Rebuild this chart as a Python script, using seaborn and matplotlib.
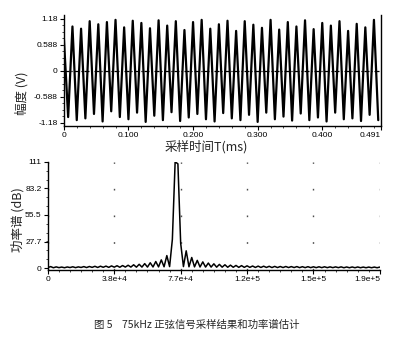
import numpy as np
import pandas as pd
import matplotlib
matplotlib.use("Agg")
import matplotlib.pyplot as plt
import seaborn as sns

# --- données ---
# signal : valeurs aux crêtes / creux successifs (75 kHz, demi-période)
freq_signal_khz = 75.0
amplitudes_v = [0.75, -1.05, 1.00, -1.12, 0.95, -1.08, 1.12, -0.98, 1.05, -1.15,
                1.10, -0.92, 1.15, -1.05, 0.98, -1.10, 1.13, -0.95, 1.08, -1.16,
                0.96, -1.02, 1.14, -1.12, 1.02, -0.94, 1.12, -1.14, 0.92, -1.06,
                1.10, -0.98, 1.15, -1.10, 0.95, -1.15, 1.05, -0.96, 1.13, -1.08,
                0.90, -1.12, 1.12, -1.00, 1.04, -1.16, 0.97, -0.95, 1.15, -1.10,
                0.93, -1.04, 1.10, -1.13, 1.00, -0.97, 1.14, -1.12, 0.94, -1.06,
                1.08, -1.15, 1.02, -0.95, 1.12, -1.10, 0.90, -1.08, 1.06, -1.14,
                0.98, -1.00, 1.15, -1.12]

# spectre de puissance, pas de 1600 Hz
pas_freq_hz = 1600
puissance_db = [0.5, 1.5, 0.3, 1.2, 0.4, 1.0, 0.3, 1.1, 0.5, 1.3,
                0.4, 1.2, 0.6, 1.5, 0.5, 1.6, 0.7, 1.8, 0.6, 1.9,
                0.8, 2.0, 0.7, 2.2, 0.9, 2.4, 0.8, 2.6, 1.0, 2.9,
                1.0,
                3.4, 0.9, 3.9, 1.0, 4.6, 1.0, 5.5, 1.1, 6.8, 1.2,
                8.5, 1.3, 13.0, 1.5, 30.0,
                111.0, 109.0,
                26.0, 1.5, 18.0, 1.3, 11.0, 1.2, 8.0, 1.1, 6.4, 1.0,
                5.2, 1.0, 4.4, 0.9, 3.8, 0.9, 3.4, 0.8, 3.0, 0.8,
                2.7, 0.7, 2.5, 0.7, 2.3, 0.7, 2.1, 0.6, 2.0, 0.6,
                1.9, 0.6, 1.8, 0.5, 1.7, 0.5, 1.6, 0.5, 1.6, 0.5,
                1.5, 0.5, 1.5, 0.4, 1.4, 0.4, 1.4, 0.4, 1.3, 0.4,
                1.3, 0.4, 1.3, 0.4, 1.2, 0.4, 1.2, 0.4, 1.2, 0.3,
                1.1, 0.3, 1.1, 0.3, 1.1, 0.3, 1.0, 0.3, 1.0, 0.3,
                1.0, 0.3, 1.0]

ticks_t = [0, 0.1, 0.2, 0.3, 0.4, 0.491]
labels_t = ["0", "0.100", "0.200", "0.300", "0.400", "0.491"]
ticks_amp = [-1.18, -0.588, 0, 0.588, 1.18]
labels_amp = ["-1.18", "-0.588", "0", "0.588", "1.18"]
ticks_f = [0, 38400, 76800, 115200, 153600, 192000]
labels_f = ["0", "3.8e+4", "7.7e+4", "1.2e+5", "1.5e+5", "1.9e+5"]
ticks_db = [0, 27.7, 55.5, 83.2, 111]
labels_db = ["0", "27.7", "55.5", "83.2", "111"]

sns.set_theme(style="ticks")
plt.rcParams['font.family'] = ['Liberation Sans', 'Noto Sans CJK SC']
CJK = ['Noto Sans CJK SC', 'DejaVu Sans']

demi_periode = 1.0 / freq_signal_khz / 2.0
df_sig = pd.DataFrame({"t": np.arange(len(amplitudes_v)) * demi_periode,
                       "v": amplitudes_v})
df_spec = pd.DataFrame({"f": np.arange(len(puissance_db)) * pas_freq_hz,
                        "p": puissance_db})

fig = plt.figure(figsize=(3.99, 3.43), dpi=100)
ax1 = fig.add_axes([0.160, 0.633, 0.795, 0.322])
ax2 = fig.add_axes([0.120, 0.213, 0.832, 0.315])

# 1. signal échantillonné
sns.lineplot(data=df_sig, x="t", y="v", ax=ax1, color="black", lw=1.6)
ax1.axhline(0, color="black", lw=0.9, ls=(0, (4, 1.5, 1, 1.5)))
ax1.set_xlim(0, 0.491)
ax1.set_ylim(-1.25, 1.25)
ax1.set_xticks(ticks_t)
ax1.set_xticklabels(labels_t)
ax1.set_xticks(np.arange(0, 0.49, 0.02), minor=True)
ax1.set_yticks(ticks_amp)
ax1.set_yticklabels(labels_amp)
ax1.set_yticks(np.arange(-1.18, 1.19, 0.1475), minor=True)
ax1.xaxis.get_ticklabels()[-1].set_horizontalalignment("right")
ax1.set_xlabel("采样时间T(ms)", family=CJK, fontsize=9, labelpad=1)
ax1.xaxis.label.set_x(0.45)
ax1.set_ylabel("")
sns.despine(ax=ax1, top=True, right=False)

# 2. spectre de puissance
sns.lineplot(data=df_spec, x="f", y="p", ax=ax2, color="black", lw=1.1)
ax2.set_xlim(0, 192000)
ax2.set_ylim(-2, 111)
ax2.set_xticks(ticks_f)
ax2.set_xticklabels(labels_f)
ax2.set_xticks(np.arange(0, 192001, 6400), minor=True)
ax2.set_yticks(ticks_db)
ax2.set_yticklabels(labels_db)
ax2.set_yticks(np.arange(0, 112, 9.25), minor=True)
ax2.xaxis.get_ticklabels()[-1].set_horizontalalignment("right")
ax2.grid(True, axis="x", which="major", color="0.3", lw=1.0, ls=(0, (1.2, 18)))
ax2.set_xlabel("")
ax2.set_ylabel("")
sns.despine(ax=ax2)

for ax in (ax1, ax2):
    ax.tick_params(which="major", length=3, width=0.8, labelsize=6, pad=1.5,
                   colors="black")
    ax.tick_params(which="minor", length=1.5, width=0.6)
    for s in ax.spines.values():
        s.set_color("black")
        s.set_linewidth(1.0)

fig.text(22 / 399, 1 - 93 / 343, "幅度 (V)", rotation=90, family=CJK,
         fontsize=9, ha="center", va="center")
fig.text(18 / 399, 1 - 220 / 343, "功率谱 (dB)", rotation=90, family=CJK,
         fontsize=9, ha="center", va="center")
fig.text(197 / 399, 1 - 325 / 343, "图 5    75kHz 正弦信号采样结果和功率谱估计",
         family=CJK, fontsize=7.5, ha="center", va="center")

fig.savefig("out.png", dpi=100, facecolor="white")
